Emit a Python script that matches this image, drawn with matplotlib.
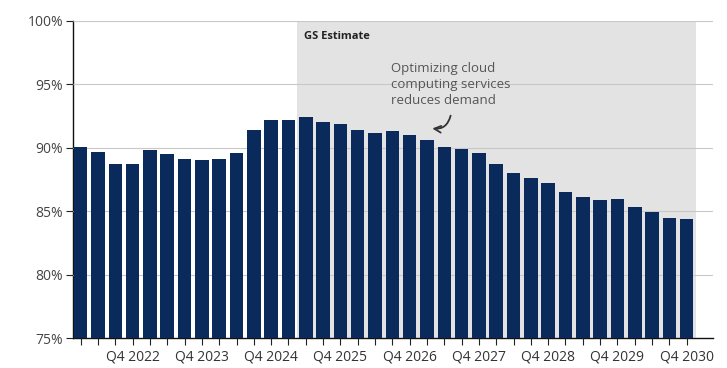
import matplotlib

matplotlib.use("Agg")
import matplotlib.pyplot as plt
from matplotlib.ticker import PercentFormatter

# quarterly values, Q1 2022 .. Q4 2030
years = list(range(2022, 2031))
quarters = [f"Q{q} {y}" for y in years for q in range(1, 5)]
values = [
    90.1, 89.7, 88.7, 88.7,
    89.8, 89.5, 89.1, 89.0,
    89.1, 89.6, 91.4, 92.2,
    92.2, 92.4, 92.0, 91.9,
    91.4, 91.2, 91.3, 91.0,
    90.6, 90.1, 89.9, 89.6,
    88.7, 88.0, 87.6, 87.2,
    86.5, 86.1, 85.9, 86.0,
    85.3, 84.9, 84.5, 84.4,
]
estimate_start = "Q2 2025"

plt.rcParams["font.family"] = ["Open Sans", "DejaVu Sans"]

fig = plt.figure(figsize=(7.27, 3.68), dpi=100)
ax = fig.add_axes([0.100, 0.0815, 0.881, 0.8615])

x = list(range(len(quarters)))
ax.bar(x, values, width=0.78, color="#0b2a5c", zorder=3)

# forecast shading
start = quarters.index(estimate_start) - 0.5
ax.axvspan(start, len(quarters) - 0.45, color="#e3e3e3", lw=0, zorder=0)
ax.text(start + 0.4, 99.2, "GS Estimate", fontsize=8, fontweight="bold",
        color="#222222", va="top", ha="left", zorder=4)

ax.annotate("", xy=(20.15, 91.55), xytext=(21.4, 92.75),
            arrowprops=dict(arrowstyle="->", color="#333333", lw=1.3,
                            mutation_scale=12,
                            connectionstyle="arc3,rad=-0.5"), zorder=4)
ax.text(17.9, 96.8, "Optimizing cloud\ncomputing services\nreduces demand",
        fontsize=9.5, color="#555555", ha="left", va="top",
        linespacing=1.33, zorder=4)

ax.set_ylim(75, 100)
ax.set_xlim(-0.46, 36.53)
ax.set_yticks([75, 80, 85, 90, 95, 100])
ax.yaxis.set_major_formatter(PercentFormatter(decimals=0))
ax.grid(axis="y", color="#c8c8c8", lw=0.8, zorder=1)
ax.set_axisbelow(False)

ax.set_xticks(x)
ax.set_xticklabels([q if q.startswith("Q4") else "" for q in quarters])
ax.tick_params(axis="x", length=5, color="#222222", labelsize=10,
               labelcolor="#333333", pad=3)
ax.tick_params(axis="y", length=5, color="#222222", labelsize=10,
               labelcolor="#444444", pad=2)

for side in ["top", "right"]:
    ax.spines[side].set_visible(False)
for side in ["left", "bottom"]:
    ax.spines[side].set_color("#111111")
    ax.spines[side].set_linewidth(1.0)

fig.savefig("out.png", dpi=100)
